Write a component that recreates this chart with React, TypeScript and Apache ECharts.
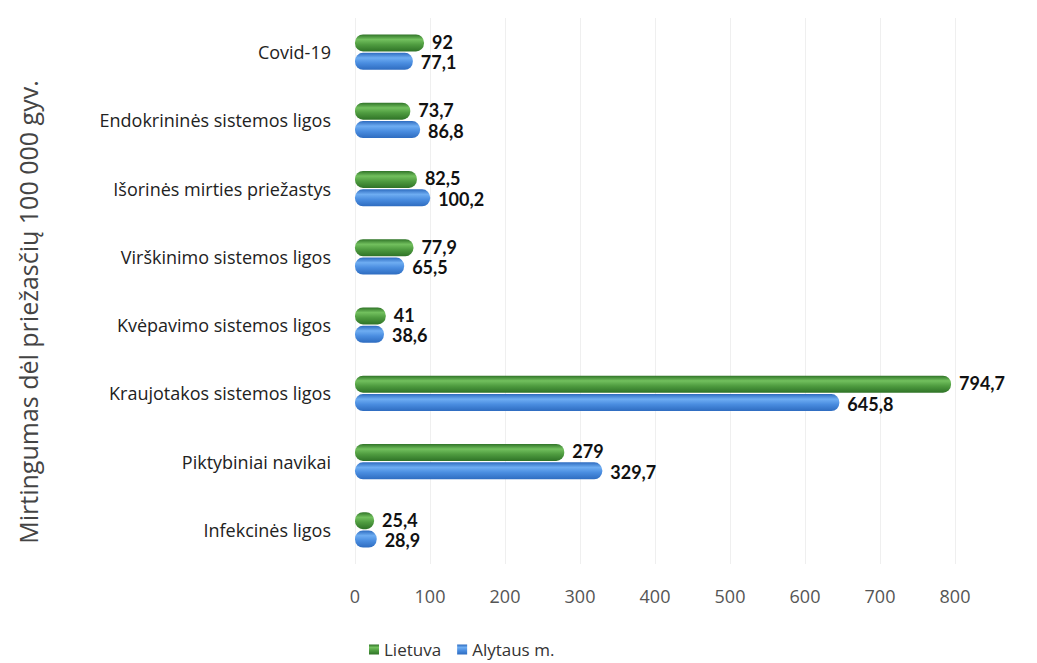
import React, { useEffect, useRef } from "react";
import * as echarts from "echarts";

const categories = [
  "Covid-19",
  "Endokrininės sistemos ligos",
  "Išorinės mirties priežastys",
  "Virškinimo sistemos ligos",
  "Kvėpavimo sistemos ligos",
  "Kraujotakos sistemos ligos",
  "Piktybiniai navikai",
  "Infekcinės ligos",
];
const lietuva = [92, 73.7, 82.5, 77.9, 41, 794.7, 279, 25.4];
const alytus = [77.1, 86.8, 100.2, 65.5, 38.6, 645.8, 329.7, 28.9];
const xTicks = [0, 100, 200, 300, 400, 500, 600, 700, 800];
const yTitle = "Mirtingumas dėl priežasčių 100 000 gyv.";

const FONT = "'Open Sans', Lato, sans-serif";
const LFONT = "Lato, 'Open Sans', sans-serif";

function grad(light: string, mid: string, dark: string) {
  return new echarts.graphic.LinearGradient(0, 0, 0, 1, [
    { offset: 0, color: dark },
    { offset: 0.3, color: light },
    { offset: 0.6, color: mid },
    { offset: 1, color: dark },
  ]);
}

export default function App() {
  const ref = useRef<HTMLDivElement>(null);
  useEffect(() => {
    document.body.style.margin = "0";
    const chart = echarts.init(ref.current!, null, { renderer: "svg" });
    const fmt = (p: any) => String(p.value).replace(".", ",");
    const labelStyle = {
      show: true,
      position: "right",
      distance: 8,
      formatter: fmt,
      fontFamily: LFONT,
      fontSize: 18,
      lineHeight: 17,
      fontWeight: "bold",
      color: "#111",
    };
    chart.setOption({
      animation: false,
      backgroundColor: "#ffffff",
      grid: { left: 355, right: 82, top: 18, bottom: 99, containLabel: false },
      graphic: [
        {
          type: "text",
          x: 28,
          y: 312,
          rotation: Math.PI / 2,
          style: {
            text: yTitle,
            fontFamily: FONT,
            fontSize: 25,
            fill: "#444",
            align: "center",
            verticalAlign: "middle",
          },
        },
      ],
      legend: {
        bottom: 0,
        left: 364,
        itemWidth: 10,
        itemHeight: 10,
        itemGap: 16,
        icon: "rect",
        textStyle: { fontFamily: FONT, fontSize: 17, color: "#333" },
        data: ["Lietuva", "Alytaus m."],
      },
      xAxis: {
        type: "value",
        min: 0,
        max: 800,
        interval: 100,
        axisLine: { show: false },
        axisTick: { show: false },
        axisLabel: {
          fontFamily: FONT,
          fontSize: 18,
          color: "#555",
          margin: 23,
          formatter: (v: number) => (xTicks.includes(v) ? String(v) : ""),
        },
        splitLine: { lineStyle: { color: "#efefef", width: 1 } },
      },
      yAxis: {
        type: "category",
        inverse: true,
        data: categories,
        axisLine: { show: false },
        axisTick: { show: false },
        axisLabel: { fontFamily: FONT, fontSize: 18, color: "#222", margin: 24 },
      },
      series: [
        {
          name: "Lietuva",
          type: "bar",
          data: lietuva,
          barWidth: 17,
          barGap: "8%",
          itemStyle: {
            color: grad("#72c05e", "#4f9c40", "#2f7327"),
            borderRadius: 8,
          },
          label: { ...labelStyle, offset: [0, -1] },
        },
        {
          name: "Alytaus m.",
          type: "bar",
          data: alytus,
          barWidth: 17,
          itemStyle: {
            color: grad("#6eadf2", "#4a8de0", "#2e6cc0"),
            borderRadius: 8,
          },
          label: { ...labelStyle, offset: [0, 1] },
        },
      ],
    });
    return () => chart.dispose();
  }, []);
  return <div ref={ref} style={{ width: 1037, height: 663 }} />;
}
